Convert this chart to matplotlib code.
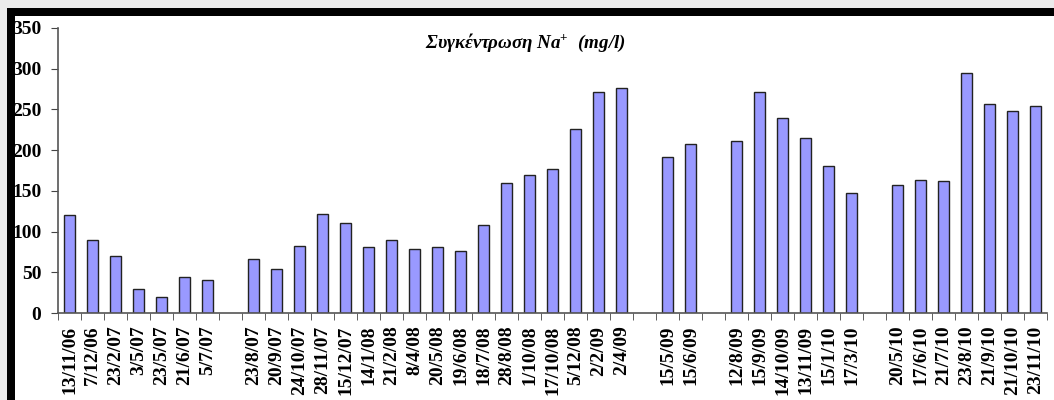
import numpy as np
import matplotlib
matplotlib.use("Agg")
import matplotlib.pyplot as plt
from matplotlib.patches import Rectangle

plt.rcParams['mathtext.fontset'] = 'custom'
plt.rcParams['mathtext.rm'] = 'Liberation Serif:bold'
plt.rcParams['mathtext.it'] = 'Liberation Serif:italic:bold'

# sampling dates (empty strings = gaps in the series)
dates = ["13/11/06", "7/12/06", "23/2/07", "3/5/07", "23/5/07", "21/6/07", "5/7/07", "",
         "23/8/07", "20/9/07", "24/10/07", "28/11/07", "15/12/07", "14/1/08", "21/2/08",
         "8/4/08", "20/5/08", "19/6/08", "18/7/08", "28/8/08", "1/10/08", "17/10/08",
         "5/12/08", "2/2/09", "2/4/09", "",
         "15/5/09", "15/6/09", "",
         "12/8/09", "15/9/09", "14/10/09", "13/11/09", "15/1/10", "17/3/10", "",
         "20/5/10", "17/6/10", "21/7/10", "23/8/10", "21/9/10", "21/10/10", "23/11/10"]

# Na+ concentration (mg/l)
na = [120, 90, 70, 30, 20, 44, 40, np.nan,
      66, 54, 82, 122, 110, 81, 90,
      79, 81, 76, 108, 160, 170, 177,
      226, 271, 276, np.nan,
      191, 208, np.nan,
      211, 272, 240, 215, 181, 147, np.nan,
      157, 163, 162, 295, 257, 248, 254]

x = np.arange(len(dates))

fig = plt.figure(figsize=(10.54, 4.0), dpi=100)
fig.patch.set_facecolor('white')

# frame strips around the chart (drawn under the axes)
fig.patches.append(Rectangle((0, 1 - 8 / 400), 1, 8 / 400, transform=fig.transFigure,
                             facecolor='#ebebeb', edgecolor='none', zorder=-2))
fig.patches.append(Rectangle((0, 0), 7 / 1054, 1, transform=fig.transFigure,
                             facecolor='#ebebeb', edgecolor='none', zorder=-2))
fig.patches.append(Rectangle((7 / 1054, 1 - 16 / 400), 1, 8 / 400, transform=fig.transFigure,
                             facecolor='black', edgecolor='none', zorder=-1))
fig.patches.append(Rectangle((7 / 1054, 0), 8 / 1054, 1 - 8 / 400, transform=fig.transFigure,
                             facecolor='black', edgecolor='none', zorder=-1))

ax = fig.add_axes([58 / 1054, 1 - 313 / 400, (1047 - 58) / 1054, (313 - 28) / 400])
ax.patch.set_alpha(0)
ax.bar(x, na, width=0.45, color='#9999ff', edgecolor='#222222', linewidth=1.0)

ax.set_xlim(-0.5, len(dates) - 0.5)
ax.set_ylim(0, 350)
ax.set_yticks(np.arange(0, 351, 50))

ax.set_xticks(x)
ax.set_xticklabels(dates, rotation=90, fontsize=14, family='Liberation Serif', fontweight='bold')
ax.set_xticks(np.arange(-0.5, len(dates), 1), minor=True)
ax.tick_params(axis='x', which='major', length=0, pad=9)
ax.tick_params(axis='x', which='minor', length=5, direction='out', color='#444444')
ax.tick_params(axis='y', length=5, direction='out', color='#444444', pad=7)
for lab in ax.get_yticklabels():
    lab.set_family('Liberation Serif')
    lab.set_fontweight('bold')
    lab.set_fontsize(14)

for s in ['top', 'right']:
    ax.spines[s].set_visible(False)
for s in ['left', 'bottom']:
    ax.spines[s].set_color('#555555')
    ax.spines[s].set_linewidth(1.2)

fig.text(525 / 1054, 1 - 43 / 400, r'Συγκέντρωση Na$^{+}$  (mg/l)', ha='center', va='center',
         fontsize=13.7, family='Liberation Serif', fontweight='bold', style='italic')

fig.savefig('out.png', dpi=100)
